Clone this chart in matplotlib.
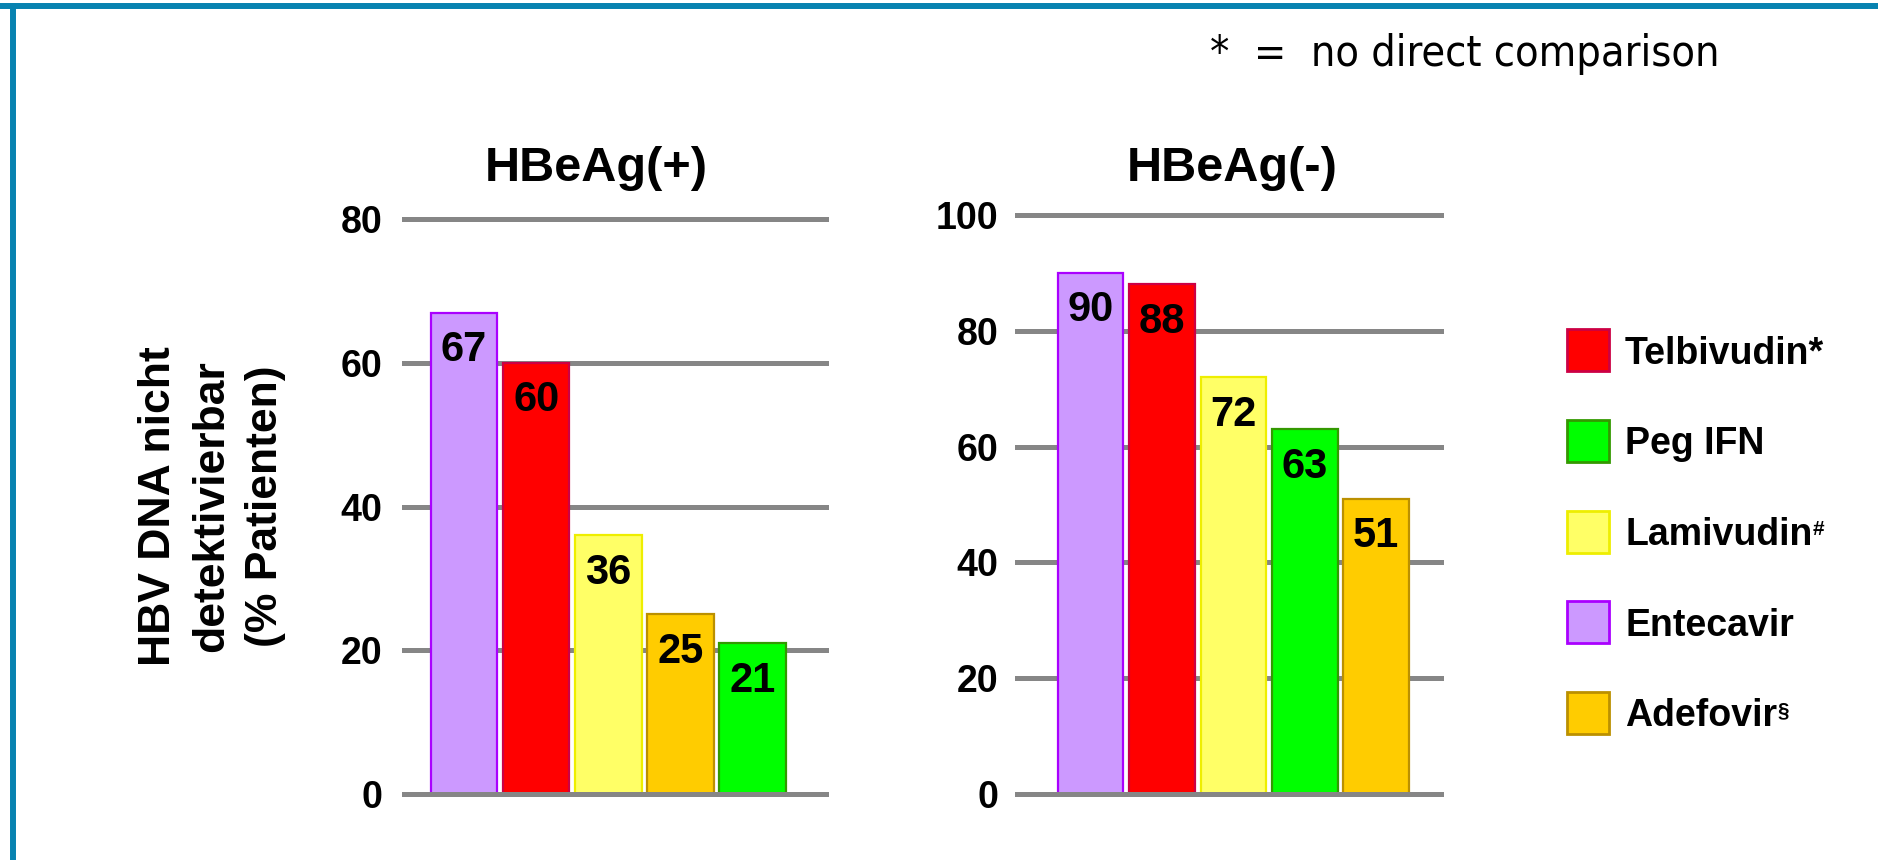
import matplotlib
matplotlib.use("Agg")
import matplotlib.pyplot as plt
from matplotlib import font_manager
from matplotlib.lines import Line2D
from matplotlib.patches import Rectangle

plt.rcParams["font.family"] = ["Liberation Sans", "DejaVu Sans"]

# HBV DNA undetectable (% of patients), by HBeAg status
pos_drugs = ["Entecavir", "Telbivudin", "Lamivudin", "Adefovir", "Peg IFN"]
pos_values = [67, 60, 36, 25, 21]
neg_drugs = ["Entecavir", "Telbivudin", "Lamivudin", "Peg IFN", "Adefovir"]
neg_values = [90, 88, 72, 63, 51]
pos_ticks = [0, 20, 40, 60, 80]
neg_ticks = [0, 20, 40, 60, 80, 100]

legend_drugs = ["Telbivudin", "Peg IFN", "Lamivudin", "Entecavir", "Adefovir"]
legend_marks = ["", "", "#", "", "§"]
legend_names = ["Telbivudin*", "Peg IFN", "Lamivudin", "Entecavir", "Adefovir"]

FILL = {"Telbivudin": "#ff0000", "Peg IFN": "#00ff00", "Lamivudin": "#ffff66",
        "Entecavir": "#cc99ff", "Adefovir": "#ffcc00"}
EDGE = {"Telbivudin": "#cc0044", "Peg IFN": "#339900", "Lamivudin": "#eeee00",
        "Entecavir": "#aa00ff", "Adefovir": "#bb9000"}
GRID = "#868686"
FRAME = "#0782b0"

W, H = 1878, 860
fig = plt.figure(figsize=(W / 100, H / 100), dpi=100)


def px(x, y):
    # pixel position (from top-left) -> figure fraction
    return x / W, 1 - y / H


def panel(rect, drugs, values, ticks, xlim, ylim, pad):
    ax = fig.add_axes(rect)
    x = list(range(len(drugs)))
    ax.bar(x, values, width=0.92,
           color=[FILL[d] for d in drugs],
           edgecolor=[EDGE[d] for d in drugs], linewidth=1.6, zorder=2)
    for i, v in enumerate(values):
        ax.annotate(f"{v}", xy=(i, v), xytext=(0, -27), textcoords="offset points",
                    ha="center", va="center", fontsize=30, fontweight="bold")
    ax.set_xlim(*xlim)
    ax.set_ylim(*ylim)
    ax.set_yticks(ticks)
    ax.set_xticks([])
    ax.yaxis.grid(True, color=GRID, linewidth=3.6)
    ax.set_axisbelow(True)
    ax.axhline(0, color=GRID, linewidth=3.6, zorder=3)
    ax.tick_params(axis="y", length=0, pad=pad, labelsize=27)
    for lab in ax.get_yticklabels():
        lab.set_fontweight("bold")
    for s in ax.spines.values():
        s.set_visible(False)
    ax.patch.set_alpha(0)
    return ax


ax1 = panel([0.2141, 0.0600, 0.2274, 0.7019], pos_drugs, pos_values, pos_ticks,
            (-0.86, 5.06), (-2, 82), 14)
ax2 = panel([0.5405, 0.0633, 0.2284, 0.7002], neg_drugs, neg_values, neg_ticks,
            (-1.057, 4.95), (-2, 102), 12)

fig.text(*px(596, 181), "HBeAg(+)", ha="center", va="baseline", fontsize=35, fontweight="bold")
fig.text(*px(1232, 181), "HBeAg(-)", ha="center", va="baseline", fontsize=35, fontweight="bold")

fig.text(*px(212, 506), "HBV DNA nicht\ndetektivierbar\n(% Patienten)", rotation=90,
         ha="center", va="center", multialignment="center", fontsize=32, fontweight="bold",
         linespacing=1.4)

# footnote: a condensed face if one is installed, else plain Liberation Sans
cond = [f for f in font_manager.fontManager.ttflist
        if ("condensed" in str(f.stretch) or "Narrow" in f.name or "Condensed" in f.name)
        and f.weight in (300, 400, "light", "normal", "regular") and f.style == "normal"]
if cond:
    note_font = dict(family=cond[0].name, stretch=cond[0].stretch, fontsize=31)
else:
    note_font = dict(family="Liberation Sans", fontsize=26)
fig.text(*px(1210, 66), "*  =  no direct comparison", ha="left", va="baseline", **note_font)

# legend
for i, (d, name, mark) in enumerate(zip(legend_drugs, legend_names, legend_marks)):
    yc = 350 + i * 90.75
    x0, y0 = px(1567, yc + 21)
    fig.add_artist(Rectangle((x0, y0), 42 / W, 42 / H, transform=fig.transFigure,
                             facecolor=FILL[d], edgecolor=EDGE[d], linewidth=2))
    t = fig.text(*px(1625, yc + 13.5), name, ha="left", va="baseline",
                 fontsize=27, fontweight="bold")
    if mark:
        ax2.annotate(mark, xy=(1, 0.93), xycoords=t, ha="left", va="top",
                     fontsize=15, fontweight="bold", annotation_clip=False)

# frame along top and left edges
fig.add_artist(Line2D([0, 1], [1 - 6 / H, 1 - 6 / H], transform=fig.transFigure,
                      color=FRAME, linewidth=4.3, solid_capstyle="butt"))
fig.add_artist(Line2D([13 / W, 13 / W], [0, 1 - 3 / H], transform=fig.transFigure,
                      color=FRAME, linewidth=4.3, solid_capstyle="butt"))

fig.savefig("out.png", dpi=100, facecolor="white")
